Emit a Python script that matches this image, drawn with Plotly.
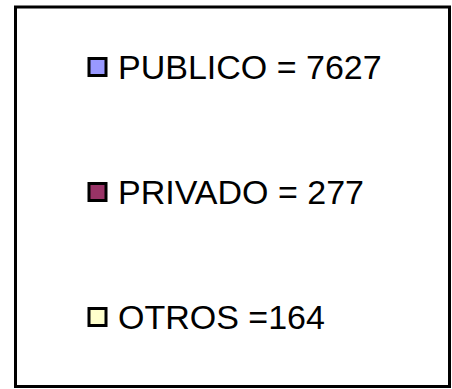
import plotly.graph_objects as go

categories = ["PUBLICO", "PRIVADO", "OTROS"]
values = [7627, 277, 164]
separators = [" = ", " = ", " ="]
colors = ["#9999FF", "#993366", "#FFFFCC"]

labels = [f"{c}{s}{v}" for c, s, v in zip(categories, separators, values)]
ypos = list(range(len(categories)))

W, H = 452, 389

fig = go.Figure()
fig.add_trace(go.Scatter(
    x=[0] * len(categories), y=ypos, mode="markers",
    marker=dict(symbol="square", size=17, color=colors,
                line=dict(color="black", width=3)),
    hoverinfo="skip", showlegend=False,
))
for y, lab in zip(ypos, labels):
    fig.add_annotation(x=0, y=y, xref="x", yref="y", text=lab, showarrow=False,
                       xanchor="left", yanchor="middle", xshift=18,
                       font=dict(family="Liberation Sans, Arial, sans-serif", size=34, color="black"))

fig.add_shape(type="rect", xref="paper", yref="paper",
              x0=15.5/W, x1=449.5/W, y0=(H-386.5)/H, y1=(H-7)/H,
              line=dict(color="black", width=3), fillcolor="rgba(0,0,0,0)")

fig.update_layout(
    width=W, height=H, margin=dict(l=0, r=0, t=0, b=0),
    paper_bgcolor="white", plot_bgcolor="white",
    xaxis=dict(range=[-97.5, -97.5 + W], visible=False, fixedrange=True),
    yaxis=dict(range=[-0.536 + H/125, -0.536], visible=False, fixedrange=True),
)
fig.write_html("out.html", config={"displayModeBar": False, "staticPlot": True},
               post_script="document.body.style.margin='0';document.body.style.overflow='hidden';")
